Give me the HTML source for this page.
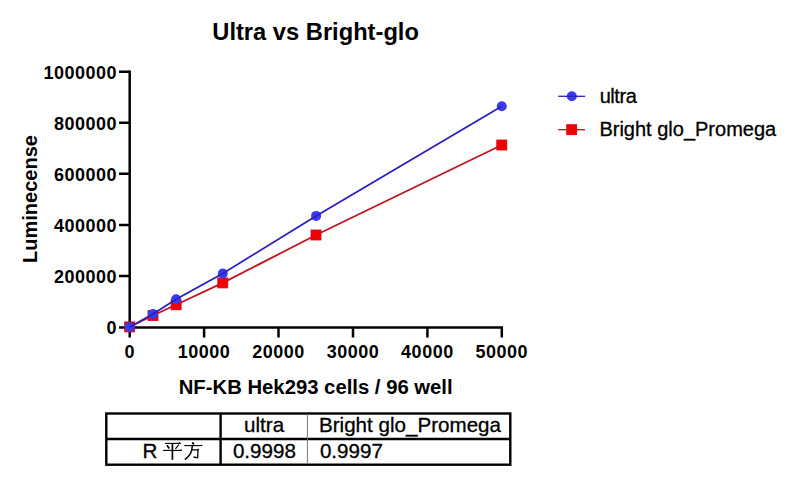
<!DOCTYPE html>
<html><head><meta charset="utf-8">
<style>
html,body{margin:0;padding:0;background:#fff;}
body{width:796px;height:478px;overflow:hidden;position:relative;}
svg{position:absolute;left:0;top:0;}
text{font-family:"Liberation Sans",sans-serif;fill:#000;}
.b{font-weight:bold;}
</style></head>
<body>
<svg width="796" height="478" viewBox="0 0 796 478">
<!-- title -->
<text class="b" x="212.3" y="39.6" font-size="23.7">Ultra vs Bright-glo</text>

<!-- axes -->
<g stroke="#000" stroke-width="2.5" fill="none" stroke-linecap="butt">
  <path d="M129.7,70.5 V337.5"/>
  <path d="M119,327.4 H503"/>
  <!-- y ticks -->
  <path d="M119,71.75 H129.7 M119,122.8 H129.7 M119,173.85 H129.7 M119,224.9 H129.7 M119,275.95 H129.7"/>
  <!-- x ticks -->
  <path d="M204.1,327 V337.5 M278.5,327 V337.5 M353,327 V337.5 M427.4,327 V337.5 M501.8,327 V337.5"/>
</g>

<!-- y tick labels -->
<g class="b" font-size="18" text-anchor="end" letter-spacing="0.5">
  <text class="b" x="117" y="78.5">1000000</text>
  <text class="b" x="117" y="129.7">800000</text>
  <text class="b" x="117" y="180.7">600000</text>
  <text class="b" x="117" y="231.7">400000</text>
  <text class="b" x="117" y="282.7">200000</text>
  <text class="b" x="117" y="333.7">0</text>
</g>
<!-- x tick labels -->
<g font-size="18" text-anchor="middle" letter-spacing="0.5">
  <text class="b" x="129.7" y="357.75">0</text>
  <text class="b" x="204.1" y="357.75">10000</text>
  <text class="b" x="278.5" y="357.75">20000</text>
  <text class="b" x="353" y="357.75">30000</text>
  <text class="b" x="427.4" y="357.75">40000</text>
  <text class="b" x="501.8" y="357.75">50000</text>
</g>

<!-- axis titles -->
<text class="b" font-size="20" text-anchor="middle" transform="translate(37,199) rotate(-90)">Luminecense</text>
<text class="b" font-size="20.3" text-anchor="middle" x="315.7" y="394.3">NF-KB Hek293 cells / 96 well</text>

<!-- markers -->
<polyline fill="none" stroke="#c0141e" stroke-width="1.8" points="129.7,327 153,315.5 176.1,304.8 222.8,282.9 316,235 501.8,145"/>
<g fill="#f00000" stroke="#d40010" stroke-width="0.8">
  <rect x="124.7" y="321.9" width="10" height="10"/>
  <rect x="148" y="310.5" width="10" height="10"/>
  <rect x="171.1" y="299.8" width="10" height="10"/>
  <rect x="217.8" y="277.9" width="10" height="10"/>
  <rect x="311" y="230" width="10" height="10"/>
  <rect x="496.8" y="140" width="10" height="10"/>
</g>
<g fill="#3a3aee">
  <circle cx="129.7" cy="327" r="5"/>
  <circle cx="153" cy="314" r="5"/>
  <circle cx="176.1" cy="299.3" r="5"/>
  <circle cx="222.8" cy="273.5" r="5"/>
  <circle cx="316.1" cy="215.9" r="5"/>
  <circle cx="501.8" cy="106.2" r="5"/>
</g>
<!-- lines -->
<polyline fill="none" stroke="#2a20c0" stroke-width="1.8" points="129.7,327 153,314 176.1,299.3 222.8,273.5 316.1,215.9 501.8,106.2"/>

<!-- legend -->
<circle cx="571.8" cy="96.2" r="5" fill="#3a3aee"/>
<path d="M558.2,96.3 H585.1" stroke="#2a20b8" stroke-width="1.3"/>
<path d="M558.2,129.7 H585.1" stroke="#b01020" stroke-width="1.3"/>
<rect x="566.7" y="124.7" width="10" height="10" fill="#f00000" stroke="#d00010" stroke-width="0.8"/>
<text x="599.7" y="102.5" font-size="20" letter-spacing="-0.45" stroke="#000" stroke-width="0.3">ultra</text>
<text x="599.4" y="135.5" font-size="20" stroke="#000" stroke-width="0.3">Bright glo_Promega</text>

<!-- table -->
<g stroke="#000" stroke-width="2.4" fill="none">
  <rect x="106.3" y="413.5" width="404" height="51.2"/>
  <path d="M106.3,439 H510.3"/>
  <path d="M220.6,413.5 V464.7"/>
</g>
<path d="M307.4,414 V464" stroke="#777" stroke-width="1"/>
<g font-size="20.6" stroke="#000" stroke-width="0.3">
  <text x="244.1" y="432">ultra</text>
  <text x="319" y="431.8">Bright glo_Promega</text>
  <text x="232.9" y="458">0.9998</text>
  <text x="319.9" y="458">0.9997</text>
  <text x="142.4" y="458">R</text>
</g>
<!-- 平 -->
<g stroke="#000" fill="none" stroke-linecap="butt">
  <path d="M165.1,443.4 H180.3" stroke-width="1.1"/>
  <path d="M166.9,445.2 L169.3,448.6" stroke-width="1.7"/>
  <path d="M178.9,444.6 L175.4,448.8" stroke-width="1.1"/>
  <path d="M163,450.4 H181.7" stroke-width="1.1"/>
  <path d="M172.4,443.4 V459.8" stroke-width="1.7"/>
  <!-- 方 -->
  <path d="M192.3,442.4 L193.9,444.4" stroke-width="1.7"/>
  <path d="M178.2,443.9 L179.3,442.1 L180.8,443.3 L180.5,443.9 Z M179.8,450.9 L180.8,449.2 L182.2,450.3 L181.9,450.9 Z M200.2,446.1 L201.2,444.4 L202.6,445.5 L202.4,446.1 Z M197.2,449.6 L198.3,448.6 L199.2,449.6 L198.4,450.3 Z" fill="#000" stroke="none"/>
  <path d="M184.3,445.6 H202.1" stroke-width="1.1"/>
  <path d="M192.3,445.8 C192.3,452 189.5,456.5 184.8,459.6" stroke-width="1.5"/>
  <path d="M191.5,449.8 H198 L197.6,457.8 L193.5,457" stroke-width="1.3"/>
</g>
</svg>
</body></html>
